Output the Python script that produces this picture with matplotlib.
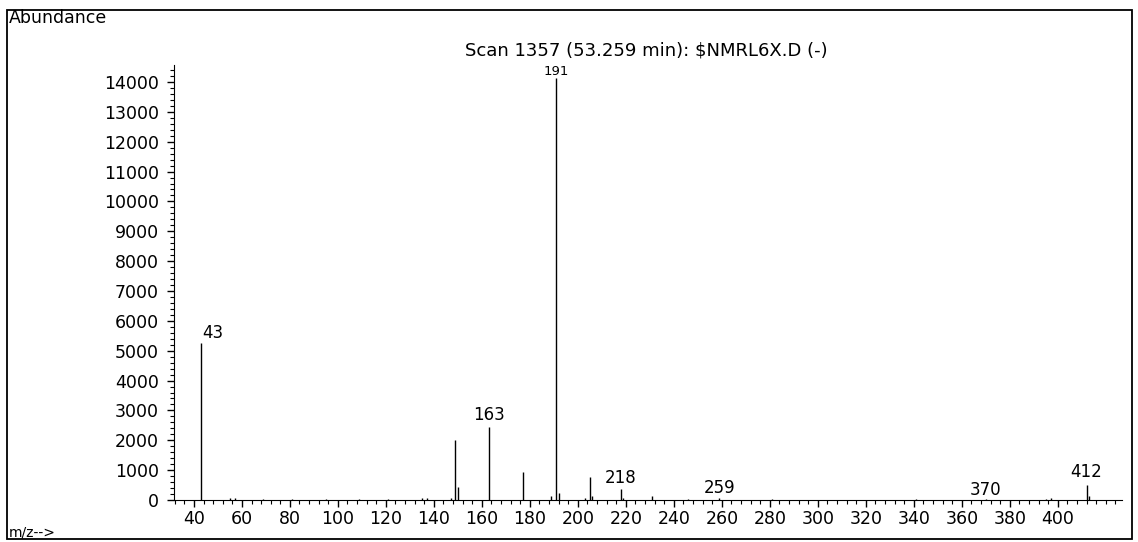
import matplotlib
matplotlib.use("Agg")
import matplotlib.pyplot as plt
from matplotlib.patches import Rectangle
from matplotlib.ticker import MultipleLocator

# mass spectrum, scan 1357
mz = [43, 55, 57, 69, 81, 95, 109, 121, 135, 137, 147, 149, 150, 163, 177,
      189, 191, 192, 203, 205, 206, 218, 219, 231, 246, 259, 281, 341, 370,
      395, 397, 412, 413]
abundance = [5250, 60, 80, 50, 40, 40, 30, 30, 60, 80, 60, 2000, 420, 2430, 950,
             120, 14150, 250, 60, 780, 150, 370, 80, 140, 30, 70, 20, 20, 30,
             30, 60, 500, 120]

labeled = [43, 163, 191, 218, 259, 370, 412]
label_y = [5300, 2550, 14150, 430, 110, 50, 620]

yticks = list(range(0, 14001, 1000))
xticks = list(range(40, 401, 20))

fig = plt.figure(figsize=(11.38, 5.42), dpi=100)
ax = fig.add_axes([0.153, 0.0775, 0.833, 0.8026])

ax.vlines(mz, 0, abundance, colors="black", linewidth=1)

for m, y in zip(labeled, label_y):
    if m == 43:
        ax.text(m + 0.5, y, str(m), ha="left", va="bottom", fontsize=12)
    elif m == 191:
        ax.text(m, y, str(m), ha="center", va="bottom", fontsize=9.5)
    else:
        ax.text(m, y, str(m), ha="center", va="bottom", fontsize=12)

ax.set_xlim(31.75, 426.8)
ax.set_ylim(0, 14570)
ax.set_xticks(xticks)
ax.set_yticks(yticks)
ax.xaxis.set_minor_locator(MultipleLocator(4))
ax.yaxis.set_minor_locator(MultipleLocator(200))
ax.tick_params(axis="both", direction="out", length=5, width=1, labelsize=12.5)
ax.tick_params(axis="y", pad=6)
ax.tick_params(axis="x", pad=2)
ax.tick_params(axis="both", which="minor", direction="out", length=3, width=0.8)
for side in ["top", "right"]:
    ax.spines[side].set_visible(False)

fig.text(0.568, 0.906, "Scan 1357 (53.259 min): $NMRL6X.D (-)", ha="center",
         va="center", fontsize=13)
fig.text(0.008, 0.966, "Abundance", ha="left", va="center", fontsize=12.5)
fig.text(0.008, 0.017, "m/z-->", ha="left", va="center", fontsize=10)

fig.patches.append(Rectangle((0.006, 0.005), 0.989, 0.977, transform=fig.transFigure,
                             fill=False, edgecolor="black", linewidth=1.3))

fig.savefig("out.png", dpi=100)
